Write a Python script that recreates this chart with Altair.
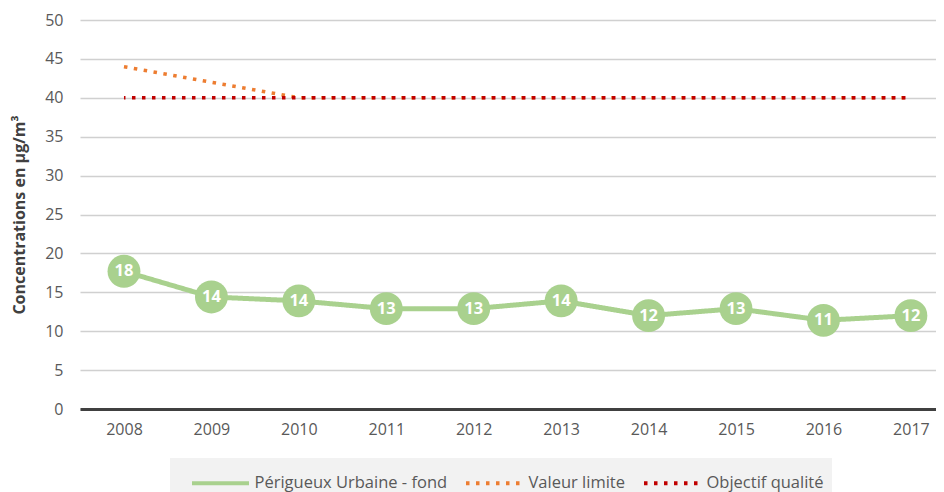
import altair as alt
import pandas as pd

years = [2008, 2009, 2010, 2011, 2012, 2013, 2014, 2015, 2016, 2017]
perigueux = [17.7, 14.4, 13.9, 12.9, 12.9, 13.9, 12.0, 12.9, 11.4, 12.0]
valeur_limite = [44, 42, 40, 40, 40, 40, 40, 40, 40, 40]
objectif = [40, 40, 40, 40, 40, 40, 40, 40, 40, 40]

s_per = "Périgueux Urbaine - fond"
s_val = "Valeur limite"
s_obj = "Objectif qualité"
series_order = [s_per, s_val, s_obj]
colors = ["#a9d18e", "#ed7d31", "#c00000"]

rows = []
for name, vals in [(s_per, perigueux), (s_val, valeur_limite), (s_obj, objectif)]:
    for y, v in zip(years, vals):
        rows.append({"year": y, "value": v, "series": name})
df = pd.DataFrame(rows)

FONT = "Open Sans"

x_enc = alt.X("year:Q", title=None,
              scale=alt.Scale(domain=[2007.497, 2017.287], nice=False, zero=False),
              axis=alt.Axis(values=years, format="d", labelAngle=0, ticks=False,
                            domainColor="#404040", domainWidth=3,
                            labelPadding=12, labelFontSize=16, labelColor="#595959", labelFont=FONT,
                            labelFlush=False, grid=False))
y_enc = alt.Y("value:Q", title="Concentrations en µg/m³",
              scale=alt.Scale(domain=[0, 50], nice=False),
              axis=alt.Axis(values=list(range(0, 51, 5)), ticks=False, domain=False,
                            gridColor="#d0d0d0", gridWidth=1.5, labelPadding=17,
                            labelFontSize=16, labelColor="#595959", labelFont=FONT,
                            titleFont=FONT, titleFontSize=16, titleFontWeight="bold",
                            titleColor="#404040", titlePadding=17))

color_enc = alt.Color("series:N", sort=series_order,
                      scale=alt.Scale(domain=series_order, range=colors),
                      legend=alt.Legend(title=None, orient="none", direction="horizontal",
                                        legendX=90, legendY=438,
                                        symbolType="M-1.9,0H1.9", symbolSize=900, symbolStrokeWidth=4,
                                        symbolOffset=25.5,
                                        labelFont=FONT, labelFontSize=16.5, labelColor="#595959",
                                        labelLimit=400, columnPadding=4, labelOffset=17,
                                        fillColor="#f2f2f2", padding=8))
dash_enc = alt.StrokeDash("series:N", sort=series_order,
                          scale=alt.Scale(domain=series_order, range=[[1, 0], [3.5, 6.5], [3.5, 6.5]]),
                          legend=None)

base = alt.Chart(df)

green = base.transform_filter(alt.datum.series == s_per)
orange = base.transform_filter(alt.datum.series == s_val)
red = base.transform_filter(alt.datum.series == s_obj)

line_green = green.mark_line(strokeWidth=5).encode(x=x_enc, y=y_enc, color=color_enc, strokeDash=dash_enc)
line_orange = orange.mark_line(strokeWidth=3.5).encode(x=x_enc, y=y_enc, color=color_enc, strokeDash=dash_enc)
line_red = red.mark_line(strokeWidth=3.5, strokeDashOffset=2).encode(x=x_enc, y=y_enc, color=color_enc, strokeDash=dash_enc)
points = green.mark_circle(size=1080, opacity=1, color="#a9d18e").encode(x=x_enc, y=y_enc)
labels = green.mark_text(color="white", fontWeight="bold", fontSize=16.5, font=FONT, baseline="middle").encode(
    x=x_enc, y=y_enc, text=alt.Text("value:Q", format=".0f"))

chart = alt.layer(line_orange, line_red, line_green, points, labels).properties(
    width=856, height=389,
    autosize=alt.AutoSizeParams(type="none"),
    padding={"left": 72, "top": 12, "right": 0, "bottom": 83},
).configure_view(stroke=None)

chart.save("out.html", embed_options={"renderer": "svg", "actions": False})
